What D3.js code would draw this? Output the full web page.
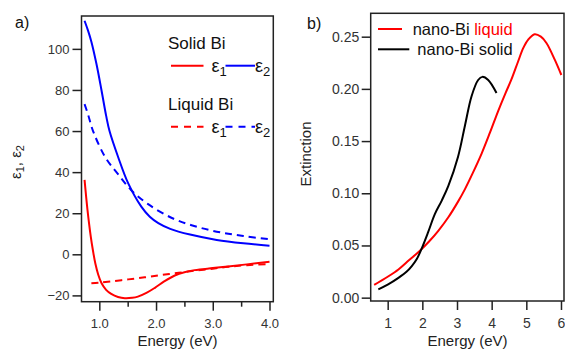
<!DOCTYPE html>
<html>
<head>
<meta charset="utf-8">
<script src="https://cdn.jsdelivr.net/npm/d3@7"></script>
<style>
  body { margin: 0; background: #fff; }
  svg { display: block; font-family: "Liberation Sans", Arial, sans-serif; }
</style>
</head>
<body>
<svg id="chart" width="565" height="351"></svg>
<script>
// ---------- Panel a data: dielectric function of Bi ----------
const solidE2Energy = [0.74, 0.80, 0.86, 0.95, 1.04, 1.12, 1.18, 1.33, 1.51, 1.74, 1.89, 2.04, 2.25, 2.60, 3.07, 3.54, 4.00];
const solidE2Value  = [113.7, 109.0, 103.5, 92.6, 79.6, 67.5, 60.0, 47.5, 34.5, 23.2, 18.3, 15.2, 12.4, 9.6, 7.0, 5.35, 4.2];

const liquidE2Energy = [0.74, 0.80, 0.89, 1.10, 1.33, 1.56, 1.86, 2.31, 2.72, 3.13, 3.54, 4.00];
const liquidE2Value  = [73.1, 68.2, 60.0, 47.5, 39.0, 31.3, 24.4, 17.3, 13.4, 10.7, 8.9, 7.3];

const solidE1Energy = [0.74, 0.79, 0.85, 0.89, 0.93, 0.98, 1.04, 1.12, 1.21, 1.33, 1.45, 1.58, 1.68, 1.83, 1.98, 2.15, 2.33, 2.50, 2.68, 3.00, 3.27, 3.60, 4.00];
const solidE1Value  = [36.2, 22.0, 8.5, 1.5, -4.5, -9.8, -14.1, -17.3, -19.3, -20.8, -21.4, -21.2, -20.6, -18.8, -16.3, -13.1, -10.3, -8.7, -7.7, -6.7, -5.9, -4.9, -3.6];

const liquidE1Energy = [0.86, 1.00, 1.20, 1.51, 1.80, 2.09, 2.40, 2.68, 3.00, 3.27, 3.60, 4.00];
const liquidE1Value  = [-14.1, -13.8, -13.2, -12.2, -11.2, -10.1, -9.0, -8.0, -7.0, -6.1, -5.3, -4.7];

const aYTicks = [-20, 0, 20, 40, 60, 80, 100];
const aXTicks = [1.0, 2.0, 3.0, 4.0];
const aXMinorTicks = [1.5, 2.5, 3.5];

// ---------- Panel b data: extinction of nano-Bi ----------
const liquidExtEnergy = [0.61, 1.00, 1.31, 1.62, 1.93, 2.20, 2.46, 2.75, 3.03, 3.23, 3.45, 3.71, 3.95, 4.19, 4.40, 4.57, 4.76, 4.91, 5.05, 5.24, 5.42, 5.58, 5.82, 6.01];
const liquidExtValue  = [0.0122, 0.020, 0.027, 0.036, 0.045, 0.054, 0.064, 0.077, 0.092, 0.104, 0.119, 0.138, 0.158, 0.179, 0.196, 0.209, 0.226, 0.239, 0.247, 0.2523, 0.250, 0.244, 0.228, 0.2133];

const solidExtEnergy = [0.73, 1.00, 1.31, 1.55, 1.69, 1.84, 1.98, 2.17, 2.36, 2.56, 2.75, 3.03, 3.23, 3.42, 3.61, 3.73, 3.90, 4.14];
const solidExtValue  = [0.008, 0.0125, 0.019, 0.025, 0.030, 0.037, 0.047, 0.063, 0.080, 0.093, 0.107, 0.135, 0.165, 0.193, 0.2085, 0.2115, 0.2085, 0.196];

const bYTicks = [0.00, 0.05, 0.10, 0.15, 0.20, 0.25];
const bXTicks = [1, 2, 3, 4, 5, 6];

// ---------- Drawing ----------
const svg = d3.select("#chart");
const AXIS = "#222";
const TICKTXT = "#333";

function zip(xs, ys) { return xs.map((x, i) => [x, ys[i]]); }

// Panel a scales
const ax = d3.scaleLinear().domain([0.686, 4.067]).range([81.5, 273.3]);
const ay = d3.scaleLinear().domain([-23.07, 116.0]).range([301.7, 16]);

// Panel b scales
const bx = d3.scaleLinear().domain([0.51, 6.087]).range([370.7, 564]);
const by = d3.scaleLinear().domain([-0.0032, 0.2724]).range([301, 13.3]);

function styleAxis(g, fontSize) {
  g.selectAll(".domain").remove();
  g.selectAll("line").attr("stroke", AXIS).attr("stroke-width", 1.5);
  g.selectAll("text").attr("fill", TICKTXT).style("font-size", fontSize + "px").style("font-family", "Liberation Sans, Arial, sans-serif");
}

function frame(x0, x1, y0, y1) {
  svg.append("rect").attr("x", x0).attr("y", y0).attr("width", x1 - x0).attr("height", y1 - y0)
    .attr("fill", "none").attr("stroke", AXIS).attr("stroke-width", 1.5);
}

const smooth = d3.curveCatmullRom.alpha(0.5);

// ---- Panel a ----
frame(81.5, 273.3, 16, 301.7);

const aYAxis = svg.append("g").attr("transform", "translate(81.5,0)")
  .call(d3.axisLeft(ay).tickValues(aYTicks).tickSize(9).tickPadding(3).tickFormat(d3.format("d")));
styleAxis(aYAxis, 13);

const aXAxis = svg.append("g").attr("transform", "translate(0,301.7)")
  .call(d3.axisBottom(ax).tickValues(aXTicks).tickSize(9).tickPadding(8).tickFormat(d3.format(".1f")));
styleAxis(aXAxis, 13);

const aXMinor = svg.append("g").attr("transform", "translate(0,301.7)")
  .call(d3.axisBottom(ax).tickValues(aXMinorTicks).tickSize(5).tickFormat(""));
styleAxis(aXMinor, 13);

const aLine = d3.line().x(d => ax(d[0])).y(d => ay(d[1])).curve(smooth);

svg.append("path").datum(zip(liquidE2Energy, liquidE2Value)).attr("d", aLine)
  .attr("fill", "none").attr("stroke", "#0000ff").attr("stroke-width", 2).attr("stroke-dasharray", "7,5");
svg.append("path").datum(zip(liquidE1Energy, liquidE1Value)).attr("d", aLine)
  .attr("fill", "none").attr("stroke", "#ff0000").attr("stroke-width", 2).attr("stroke-dasharray", "7,5");
svg.append("path").datum(zip(solidE2Energy, solidE2Value)).attr("d", aLine)
  .attr("fill", "none").attr("stroke", "#0000ff").attr("stroke-width", 2);
svg.append("path").datum(zip(solidE1Energy, solidE1Value)).attr("d", aLine)
  .attr("fill", "none").attr("stroke", "#ff0000").attr("stroke-width", 2);

// panel a labels
svg.append("text").attr("x", 15).attr("y", 28).attr("font-size", 16).attr("fill", "#111").text("a)");
svg.append("text").attr("x", 177.5).attr("y", 346).attr("text-anchor", "middle").attr("font-size", 15).attr("fill", "#222").text("Energy (eV)");

const aYLab = svg.append("text").attr("transform", "translate(21,162) rotate(-90)")
  .attr("text-anchor", "middle").attr("font-size", 15).attr("fill", "#222");
aYLab.append("tspan").text("ε");
aYLab.append("tspan").attr("font-size", 11).attr("dy", 3).text("1");
aYLab.append("tspan").attr("dy", -3).text(", ε");
aYLab.append("tspan").attr("font-size", 11).attr("dy", 3).text("2");

// panel a legend
svg.append("text").attr("x", 168).attr("y", 49).attr("font-size", 17).attr("fill", "#111").text("Solid Bi");
svg.append("text").attr("x", 168).attr("y", 110).attr("font-size", 17).attr("fill", "#111").text("Liquid Bi");

function legendEps(y, dashed) {
  const dash = dashed ? "7,6" : null;
  svg.append("line").attr("x1", 171).attr("x2", 203.5).attr("y1", y).attr("y2", y)
    .attr("stroke", "#ff0000").attr("stroke-width", 2).attr("stroke-dasharray", dash);
  const t1 = svg.append("text").attr("x", 211.5).attr("y", y + 6.5).attr("font-size", 18).attr("fill", "#111");
  t1.append("tspan").text("ε");
  t1.append("tspan").attr("font-size", 13).attr("dy", 4).text("1");
  svg.append("line").attr("x1", 225.5).attr("x2", 255).attr("y1", y).attr("y2", y)
    .attr("stroke", "#0000ff").attr("stroke-width", 2).attr("stroke-dasharray", dash);
  const t2 = svg.append("text").attr("x", 255).attr("y", y + 6.5).attr("font-size", 18).attr("fill", "#111");
  t2.append("tspan").text("ε");
  t2.append("tspan").attr("font-size", 13).attr("dy", 4).text("2");
}
legendEps(65.7, false);
legendEps(126.7, true);

// ---- Panel b ----
frame(370.7, 564, 13.3, 301);

const bYAxis = svg.append("g").attr("transform", "translate(370.7,0)")
  .call(d3.axisLeft(by).tickValues(bYTicks).tickSize(9).tickPadding(2.5).tickFormat(d3.format(".2f")));
styleAxis(bYAxis, 14);

const bXAxis = svg.append("g").attr("transform", "translate(0,301)")
  .call(d3.axisBottom(bx).tickValues(bXTicks).tickSize(9).tickPadding(8).tickFormat(d3.format("d")));
styleAxis(bXAxis, 14);

const bLine = d3.line().x(d => bx(d[0])).y(d => by(d[1])).curve(smooth);

svg.append("path").datum(zip(liquidExtEnergy, liquidExtValue)).attr("d", bLine)
  .attr("fill", "none").attr("stroke", "#ff0000").attr("stroke-width", 2);
svg.append("path").datum(zip(solidExtEnergy, solidExtValue)).attr("d", bLine)
  .attr("fill", "none").attr("stroke", "#000").attr("stroke-width", 2);

svg.append("text").attr("x", 307).attr("y", 29).attr("font-size", 16).attr("fill", "#111").text("b)");
svg.append("text").attr("x", 467.5).attr("y", 346).attr("text-anchor", "middle").attr("font-size", 15).attr("fill", "#222").text("Energy (eV)");
svg.append("text").attr("transform", "translate(311,154) rotate(-90)")
  .attr("text-anchor", "middle").attr("font-size", 15).attr("fill", "#222").text("Extinction");

// panel b legend
svg.append("line").attr("x1", 378).attr("x2", 402).attr("y1", 29).attr("y2", 29)
  .attr("stroke", "#ff0000").attr("stroke-width", 2);
const bl1 = svg.append("text").attr("x", 412.7).attr("y", 35).attr("font-size", 16.5).attr("fill", "#111");
bl1.append("tspan").text("nano-Bi ");
bl1.append("tspan").attr("fill", "#ff0000").text("liquid");
svg.append("line").attr("x1", 378).attr("x2", 409.3).attr("y1", 49.3).attr("y2", 49.3)
  .attr("stroke", "#000").attr("stroke-width", 2);
svg.append("text").attr("x", 417.3).attr("y", 55).attr("font-size", 16.5).attr("fill", "#111").text("nano-Bi solid");
</script>
</body>
</html>
